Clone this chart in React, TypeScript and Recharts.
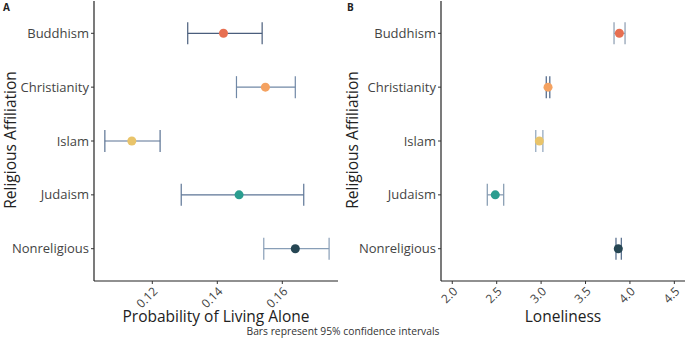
import React from 'react';
import { ScatterChart, Scatter, XAxis, YAxis, ZAxis, ErrorBar } from 'recharts';

const categories = ['Buddhism', 'Christianity', 'Islam', 'Judaism', 'Nonreligious'];
const categoryPositions = [1, 2, 3, 4, 5];
const pointColors = ['#E76F51', '#F4A261', '#E9C46A', '#2A9D8F', '#264653'];

const livingAloneEstimate = [0.1419, 0.1548, 0.1137, 0.1467, 0.164];
const livingAloneLower = [0.1309, 0.1459, 0.1054, 0.1289, 0.1543];
const livingAloneUpper = [0.1538, 0.164, 0.1224, 0.1666, 0.1744];
const livingAloneBarColors = ['#4a5e7c', '#7088a6', '#5a7293', '#5d7596', '#889eb7'];
const livingAloneTicks = [0.12, 0.14, 0.16];

const lonelinessEstimate = [3.881, 3.078, 2.98, 2.484, 3.869];
const lonelinessLower = [3.821, 3.058, 2.94, 2.394, 3.843];
const lonelinessUpper = [3.945, 3.098, 3.02, 2.579, 3.903];
const lonelinessBarColors = ['#8a9bb0', '#4a6285', '#8ea4bc', '#8197ae', '#4f6787'];
const lonelinessTicks = [2.0, 2.5, 3.0, 3.5, 4.0, 4.5];

const FONT = "'Open Sans', sans-serif";

type PanelProps = {
  est: number[];
  lo: number[];
  hi: number[];
  barColors: string[];
  domain: [number, number];
  ticks: number[];
  decimals: number;
  width: number;
  yAxisWidth: number;
  marginRight: number;
};

function Panel({ est, lo, hi, barColors, domain, ticks, decimals, width, yAxisWidth, marginRight }: PanelProps) {
  return (
    <ScatterChart width={width} height={338} margin={{ top: 1, right: marginRight, bottom: 0, left: 0 }}>
      <XAxis
        type="number"
        dataKey="x"
        domain={domain}
        ticks={ticks}
        allowDataOverflow
        height={57}
        tickSize={3}
        tickMargin={2}
        interval={0}
        tickFormatter={(v: number) => v.toFixed(decimals)}
        axisLine={{ stroke: '#222', strokeWidth: 1.2 }}
        tickLine={{ stroke: '#333' }}
        tick={{ fontSize: 12, fill: '#444', fontFamily: FONT, angle: -45, textAnchor: 'end' }}
      />
      <YAxis
        type="number"
        dataKey="y"
        domain={[0.4, 5.6]}
        ticks={categoryPositions}
        reversed
        allowDataOverflow
        width={yAxisWidth}
        tickSize={3}
        tickMargin={2}
        interval={0}
        tickFormatter={(v: number) => categories[v - 1]}
        axisLine={{ stroke: '#222', strokeWidth: 1.2 }}
        tickLine={{ stroke: '#333' }}
        tick={{ fontSize: 13, fill: '#444', fontFamily: FONT }}
      />
      <ZAxis range={[72, 72]} />
      {categories.map((c, i) => (
        <Scatter
          key={c}
          name={c}
          data={[{ x: est[i], y: categoryPositions[i], err: [est[i] - lo[i], hi[i] - est[i]] }]}
          fill={pointColors[i]}
          isAnimationActive={false}
        >
          <ErrorBar dataKey="err" direction="x" width={11} stroke={barColors[i]} strokeWidth={1.2} />
        </Scatter>
      ))}
    </ScatterChart>
  );
}

export default function App() {
  return (
    <div style={{ position: 'absolute', left: 0, top: 0, width: 685, height: 338, background: '#fff', overflow: 'hidden' }}>
      <div style={{ position: 'absolute', left: 0, top: 0 }}>
        <Panel
          est={livingAloneEstimate}
          lo={livingAloneLower}
          hi={livingAloneUpper}
          barColors={livingAloneBarColors}
          domain={[0.10206, 0.17714]}
          ticks={livingAloneTicks}
          decimals={2}
          width={342}
          yAxisWidth={94}
          marginRight={4}
        />
      </div>
      <div style={{ position: 'absolute', left: 342, top: 0 }}>
        <Panel
          est={lonelinessEstimate}
          lo={lonelinessLower}
          hi={lonelinessUpper}
          barColors={lonelinessBarColors}
          domain={[1.873, 4.62]}
          ticks={lonelinessTicks}
          decimals={1}
          width={343}
          yAxisWidth={99}
          marginRight={0}
        />
      </div>
      <svg width={685} height={338} style={{ position: 'absolute', left: 0, top: 0, pointerEvents: 'none' }}>
        <g fontFamily={FONT} fill="#222">
          <text x={3} y={11} fontSize={10} fontWeight="bold">A</text>
          <text x={347} y={11} fontSize={10} fontWeight="bold">B</text>
          <text transform="translate(16,140) rotate(-90)" textAnchor="middle" fontSize={15.5}>Religious Affiliation</text>
          <text transform="translate(358,140) rotate(-90)" textAnchor="middle" fontSize={15.5}>Religious Affiliation</text>
          <text x={216} y={322} textAnchor="middle" fontSize={15.5}>Probability of Living Alone</text>
          <text x={563} y={322} textAnchor="middle" fontSize={15.5}>Loneliness</text>
          <text x={343} y={335} textAnchor="middle" fontSize={10.3} fill="#333">Bars represent 95% confidence intervals</text>
        </g>
      </svg>
    </div>
  );
}
